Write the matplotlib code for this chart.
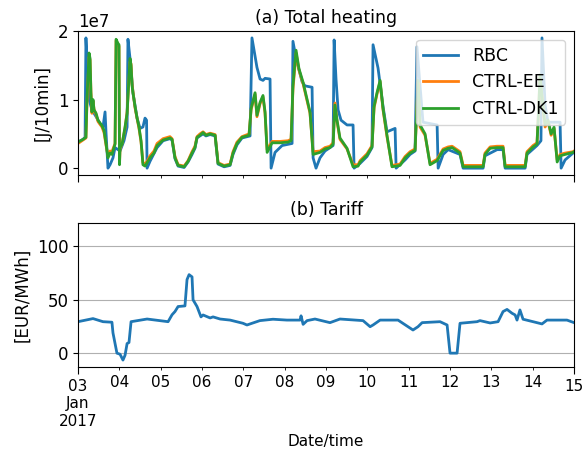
import numpy as np
import pandas as pd
import matplotlib
matplotlib.use('Agg')
import matplotlib.pyplot as plt
import matplotlib.dates as mdates
from matplotlib.ticker import FixedLocator, FixedFormatter

start = pd.Timestamp('2017-01-03')

# hours since 2017-01-03 00:00, heating in units of 1e7 J/10min
t_rbc = [0, 2.9, 4.1, 4.6, 5.2, 6.4, 8.1, 10.5, 12.8, 14.5, 15.7, 16.3, 17.4, 18.6, 20.3,
         21.5, 24.4, 26.7, 28.5, 29.0, 30.2, 31.9, 34.3, 36.0, 37.7, 38.9, 39.8, 40.1, 41.8,
         45.9, 49.4, 53.4, 54.6, 56.3, 58.1, 61.6, 63.9, 66.2, 67.9, 69.1, 70.8, 72.6, 74.3,
         76.7, 79.6, 81.3, 84.8, 88.3, 90.0, 92.3, 95.2, 99.9, 101.0, 103.9, 105.7, 107.4,
         108.6, 111.5, 112.1, 114.4, 118.5, 124.3, 124.8, 126.6, 130.1, 131.8, 135.9, 136.5,
         138.2, 140.5, 143.4, 148.1, 148.7, 149.8, 151.0, 152.7, 156.2, 159.7, 160.3, 163.8,
         167.8, 170.7, 171.3, 174.2, 177.1, 179.4, 184.1, 184.7, 189.9, 192.8, 195.7, 196.8,
         198.6, 200.3, 208.5, 209.1, 212.0, 214.9, 221.8, 223.6, 235.2, 236.3, 243.3, 246.8,
         248.0, 259.6, 260.7, 266.5, 268.8, 269.4, 271.2, 272.9, 279.9, 280.5, 282.8, 287.4, 288]
q_rbc = [0.38, 0.42, 0.45, 1.9, 1.6, 1.0, 0.85, 0.75, 0.65, 0.6, 0.82, 0.5, 0.0, 0.05, 0.15,
         0.3, 0.25, 0.4, 0.6, 1.88, 1.6, 1.1, 0.73, 0.58, 0.6, 0.73, 0.7, 0.0, 0.1,
         0.3, 0.4, 0.43, 0.41, 0.14, 0.03, 0.01, 0.09, 0.2, 0.29, 0.44, 0.47, 0.5, 0.47,
         0.49, 0.47, 0.06, 0.02, 0.04, 0.2, 0.34, 0.44, 0.47, 1.9, 1.47, 1.3, 1.28,
         1.31, 1.3, 0.0, 0.23, 0.33, 0.36, 1.85, 1.6, 1.26, 1.2, 1.18, 0.15,
         0.0, 0.15, 0.25, 0.33, 1.87, 1.3, 0.85, 0.7, 0.63, 0.63, 0.0, 0.07,
         0.17, 0.3, 1.8, 1.46, 0.9, 0.53, 0.58, 0.0, 0.12, 0.2, 0.25, 1.77,
         1.2, 0.67, 0.63, 0.0, 0.2, 0.27, 0.2, 0.0, 0.0, 0.18, 0.27, 0.27,
         0.0, 0.0, 0.2, 0.33, 0.4, 1.9, 0.92, 0.67, 0.67, 0.0, 0.12, 0.22, 0.23]

t_ctrl = [0, 2.9, 4.6, 5.2, 6.4, 7.0, 7.5, 8.1, 8.7, 9.3, 10.5, 11.6, 13.9, 15.1, 16.3, 17.4,
          18.6, 19.7, 20.9, 21.5, 22.1, 23.2, 23.8, 24.1, 24.4, 25.6, 27.3, 28.5, 29.6, 30.2,
          30.8, 31.4, 31.9, 33.1, 34.3, 35.4, 36.6, 37.7, 38.9, 40.1, 41.8, 44.1, 45.9, 49.4,
          53.4, 54.6, 56.3, 58.1, 61.6, 63.9, 66.2, 67.9, 69.1, 70.8, 72.6, 74.3, 76.7, 79.6,
          81.3, 84.8, 88.3, 90.0, 92.3, 95.2, 99.3, 100.5, 102.8, 103.9, 105.7, 107.4, 108.6,
          109.8, 112.7, 117.3, 121.9, 123.7, 124.8, 126.6, 128.3, 130.7, 133.0, 134.7, 136.5,
          140.5, 143.4, 146.3, 148.1, 149.2, 150.4, 152.1, 156.2, 159.7, 162.6, 163.8, 167.8,
          170.7, 171.9, 173.6, 175.4, 177.1, 179.4, 182.3, 187.0, 189.9, 192.8, 195.7, 196.8,
          197.4, 198.6, 201.5, 204.4, 208.5, 212.0, 214.9, 217.2, 220.1, 221.8, 223.6, 235.2,
          236.3, 239.3, 243.3, 246.8, 248.0, 259.6, 260.7, 264.2, 266.5, 267.7, 268.2, 270.0,
          271.2, 272.9, 274.7, 276.4, 278.2, 279.9, 282.8, 287.4, 288]
q_dk1 = [0.38, 0.42, 0.45, 1.0, 1.68, 1.6, 1.1, 0.82, 1.0, 0.85, 0.8, 0.7, 0.62, 0.55, 0.35, 0.15,
         0.22, 0.2, 0.3, 0.35, 1.88, 1.82, 1.8, 0.05, 0.3, 0.35, 0.6, 0.8, 1.3, 1.6,
         1.5, 1.2, 1.1, 0.9, 0.73, 0.6, 0.4, 0.05, 0.03, 0.08, 0.15, 0.22, 0.33, 0.41,
         0.44, 0.42, 0.15, 0.04, 0.02, 0.1, 0.22, 0.3, 0.45, 0.48, 0.52, 0.48, 0.5, 0.48,
         0.07, 0.03, 0.05, 0.22, 0.36, 0.45, 0.48, 0.87, 1.1, 0.77, 0.96, 1.06, 0.82,
         0.23, 0.37, 0.37, 0.38, 0.4, 1.2, 1.72, 1.45, 1.25, 1.0, 0.82, 0.2,
         0.23, 0.28, 0.3, 0.35, 0.92, 0.7, 0.44, 0.29, 0.02, 0.03, 0.09, 0.19,
         0.31, 0.9, 1.1, 1.28, 0.87, 0.48, 0.02, 0.04, 0.15, 0.22, 0.26, 0.9,
         1.28, 0.63, 0.5, 0.05, 0.11, 0.26, 0.29, 0.3, 0.25, 0.22, 0.02, 0.02,
         0.2, 0.29, 0.3, 0.3, 0.02, 0.02, 0.22, 0.31, 0.35, 1.0, 1.36, 0.9,
         0.63, 0.7, 0.5, 0.6, 0.09, 0.18, 0.2, 0.23, 0.24]
q_ee = [0.36, 0.41, 0.44, 0.95, 1.62, 1.58, 1.12, 0.8, 0.98, 0.86, 0.78, 0.68, 0.6, 0.52, 0.33, 0.18,
        0.25, 0.24, 0.32, 0.36, 1.86, 1.8, 1.78, 0.07, 0.28, 0.36, 0.58, 0.82, 1.28, 1.55,
        1.52, 1.22, 1.12, 0.88, 0.72, 0.58, 0.38, 0.08, 0.06, 0.1, 0.18, 0.25, 0.36, 0.43,
        0.46, 0.43, 0.17, 0.05, 0.03, 0.11, 0.24, 0.32, 0.46, 0.5, 0.53, 0.49, 0.51, 0.49,
        0.08, 0.04, 0.06, 0.24, 0.38, 0.46, 0.5, 0.85, 1.08, 0.75, 0.94, 1.04, 0.8,
        0.27, 0.39, 0.39, 0.4, 0.42, 1.15, 1.68, 1.43, 1.23, 0.98, 0.8, 0.24,
        0.25, 0.3, 0.32, 0.37, 0.95, 0.68, 0.42, 0.28, 0.05, 0.05, 0.11, 0.21,
        0.33, 0.88, 1.08, 1.26, 0.85, 0.46, 0.04, 0.06, 0.17, 0.24, 0.28, 0.88,
        1.25, 0.6, 0.48, 0.07, 0.13, 0.28, 0.31, 0.32, 0.27, 0.24, 0.04, 0.04,
        0.22, 0.31, 0.32, 0.32, 0.04, 0.04, 0.24, 0.33, 0.37, 0.98, 1.32, 0.88,
        0.6, 0.68, 0.48, 0.58, 0.12, 0.2, 0.22, 0.24, 0.25]

# tariff, EUR/MWh
t_tariff = [0, 8.7, 14.5, 19.7, 20.3, 22.6, 24.4, 26.1, 27.3, 28.5, 29.6, 30.8, 40.1, 52.3,
            54.6, 56.3, 58.1, 62.1, 63.3, 64.5, 66.2, 66.8, 69.1, 71.4, 72.6, 76.7, 78.4,
            82.5, 88.3, 95.8, 98.1, 101.0, 105.6, 113.2, 121.3, 128.9, 129.5, 130.7, 133.0,
            137.6, 146.3, 152.1, 165.5, 169.6, 171.3, 175.4, 185.8, 191.6, 194.5, 197.4,
            199.8, 210.2, 214.3, 216.0, 220.1, 221.8, 231.7, 233.4, 239.3, 243.9, 246.8,
            249.1, 252.0, 253.8, 254.9, 256.6, 258.4, 264.2, 269.4, 272.3, 283.9, 288]
tariff = [29.5, 32.4, 29.5, 29, 19, 0, -1, -6.5, -2, 9, 10, 29.5, 32, 29.5,
          36, 39, 43.7, 44.3, 69, 73.6, 71.5, 50, 43.7, 34, 35.8, 33, 34,
          32, 31, 28, 26.4, 28, 30.5, 31.8, 31, 31, 35, 27, 30.5,
          32, 28.6, 32, 30.5, 24.8, 26.4, 31, 31, 24.8, 21.7, 24.8,
          28.6, 29.5, 26.4, 0, 0, 28, 29.5, 30.5, 28.3, 29.5, 39,
          41, 37.4, 35.8, 31, 40.5, 31.8, 29.5, 27.4, 31, 31, 28.6]


def to_time(hours):
    return start + pd.to_timedelta(np.array(hours), unit='h')


fig = plt.figure(figsize=(5.87, 4.59), dpi=100)
ax1 = fig.add_axes([0.1329, 0.6187, 0.845, 0.3137])
ax2 = fig.add_axes([0.1329, 0.2004, 0.845, 0.3137], sharex=ax1)

ax1.plot(to_time(t_rbc), np.array(q_rbc) * 1e7, lw=2, label='RBC')
ax1.plot(to_time(t_ctrl), np.array(q_ee) * 1e7, lw=2, label='CTRL-EE')
ax1.plot(to_time(t_ctrl), np.array(q_dk1) * 1e7, lw=2, label='CTRL-DK1')
ax1.set_ylim(-0.1e7, 2e7)
ax1.set_yticks([0, 1e7, 2e7])
ax1.set_ylabel('[J/10min]', fontsize=12)
ax1.set_title('(a) Total heating', fontsize=12.5)
ax1.legend(loc='upper right', fontsize=12.5)
ax1.tick_params(axis='y', labelsize=12)
ax1.yaxis.get_offset_text().set_fontsize(12)

ax2.plot(to_time(t_tariff), tariff, lw=2)
ax2.set_ylim(-13, 122)
ax2.set_yticks([0, 50, 100])
ax2.grid(axis='y', color='#b0b0b0')
ax2.set_ylabel('[EUR/MWh]', fontsize=12)
ax2.set_title('(b) Tariff', fontsize=12.5)
ax2.set_xlabel('Date/time', fontsize=11)
ax2.tick_params(axis='y', labelsize=12)

days = pd.date_range('2017-01-03', '2017-01-15', freq='D')
major = [mdates.date2num(days[0]), mdates.date2num(days[-1])]
minor = [mdates.date2num(d) for d in days[1:-1]]
ax2.xaxis.set_major_locator(FixedLocator(major))
ax2.xaxis.set_major_formatter(FixedFormatter(['03\nJan\n2017', '15']))
ax2.xaxis.set_minor_locator(FixedLocator(minor))
ax2.xaxis.set_minor_formatter(FixedFormatter([d.strftime('%d') for d in days[1:-1]]))
ax2.tick_params(axis='x', which='major', labelsize=11, length=5)
ax2.tick_params(axis='x', which='minor', labelsize=11)
ax1.tick_params(axis='x', which='major', length=5)
plt.setp(ax1.get_xticklabels(which='both'), visible=False)
ax2.set_xlim(days[0], days[-1])

fig.savefig('out.png', dpi=100)
